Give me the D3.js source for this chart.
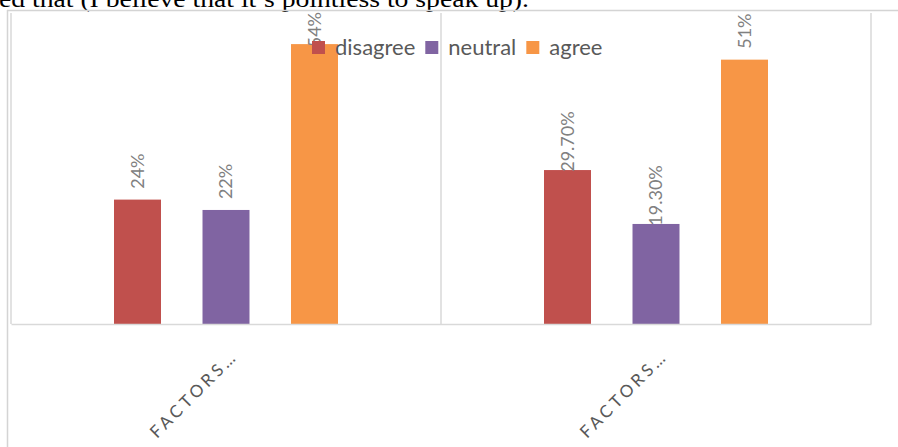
<!DOCTYPE html>
<html>
<head>
<meta charset="utf-8">
<script src="https://cdn.jsdelivr.net/npm/d3@7"></script>
<style>
  html, body { margin: 0; padding: 0; background: #ffffff; }
  svg { display: block; }
</style>
</head>
<body>
<svg id="chart" width="898" height="447"></svg>
<script>
// ---- data ----
const categories = ["FACTORS\u2026", "FACTORS\u2026"];
const series = ["disagree", "neutral", "agree"];
const disagreeValues = [24, 29.7];
const neutralValues = [22, 19.3];
const agreeValues = [54, 51];
const disagreeLabels = ["24%", "29.70%"];
const neutralLabels = ["22%", "19.30%"];
const agreeLabels = ["54%", "51%"];
const headerText = "ed that (I believe that it\u2019s pointless to speak up).";

const colors = { disagree: "#C0504D", neutral: "#8064A2", agree: "#F79646" };
const valuesBySeries = { disagree: disagreeValues, neutral: neutralValues, agree: agreeValues };
const labelsBySeries = { disagree: disagreeLabels, neutral: neutralLabels, agree: agreeLabels };

const svg = d3.select("#chart");
const FONT = "Lato, 'Open Sans', sans-serif";

// plot geometry
const plotLeft = 11, plotRight = 871, plotTop = 13, plotBottom = 324;

const x0 = d3.scaleBand().domain(d3.range(categories.length)).range([plotLeft, plotRight]).paddingInner(0).paddingOuter(0);
const x1 = d3.scaleBand().domain(series).range([0, x0.bandwidth()]).paddingInner(0.469).paddingOuter(1.164);
const y = d3.scaleLinear().domain([0, 60]).range([plotBottom, plotTop]);

// header document text (cut off at top, as in the source page)
svg.append("text")
  .attr("x", -1).attr("y", 6.5)
  .attr("font-family", "'Liberation Serif', 'Times New Roman', serif")
  .attr("font-size", 24)
  .attr("fill", "#000")
  .attr("textLength", 530)
  .attr("lengthAdjust", "spacingAndGlyphs")
  .text(headerText);

// outer frame
svg.append("line").attr("x1", 7).attr("x2", 898).attr("y1", 10.5).attr("y2", 10.5)
  .attr("stroke", "#d4d4d4").attr("stroke-width", 1.5);
svg.append("line").attr("x1", 7.5).attr("x2", 7.5).attr("y1", 10).attr("y2", 447)
  .attr("stroke", "#d4d4d4").attr("stroke-width", 1.5);

// vertical category gridlines
const bounds = categories.map((c, i) => x0(i)).concat([x0(categories.length - 1) + x0.bandwidth()]);
svg.append("g").selectAll("line").data(bounds).join("line")
  .attr("x1", d => d).attr("x2", d => d)
  .attr("y1", plotTop).attr("y2", plotBottom)
  .attr("stroke", "#d9d9d9").attr("stroke-width", 1.5);

// bars
const groups = svg.append("g").selectAll("g").data(categories).join("g")
  .attr("transform", (d, i) => `translate(${x0(i)},0)`);

groups.selectAll("rect").data((d, i) => series.map(s => ({ s, v: valuesBySeries[s][i], l: labelsBySeries[s][i] })))
  .join("rect")
  .attr("x", d => x1(d.s))
  .attr("width", x1.bandwidth())
  .attr("y", d => y(d.v))
  .attr("height", d => y(0) - y(d.v))
  .attr("fill", d => colors[d.s]);

// axis line
const xAxis = d3.axisBottom(x0).tickSize(0).tickFormat("");
const axisG = svg.append("g").attr("transform", `translate(0,${plotBottom})`).call(xAxis);
axisG.select(".domain").attr("stroke", "#d9d9d9").attr("stroke-width", 1.5);

// data labels (rotated)
groups.each(function(cat, i) {
  const g = d3.select(this);
  series.forEach(s => {
    const v = valuesBySeries[s][i];
    const cx = x1(s) + x1.bandwidth() / 2;
    const t = g.append("text")
      .attr("font-family", FONT)
      .attr("font-size", 18)
      .attr("fill", "#808080")
      .attr("text-anchor", "middle")
      .attr("dy", "0.35em")
      .text(labelsBySeries[s][i]);
    const len = t.node().getComputedTextLength();
    let cy = y(v) - 28.5;
    if (cy - len / 2 < 12) cy = 12 + len / 2;
    t.attr("transform", `translate(${cx},${cy}) rotate(-90)`);
  });
});

// x category labels
svg.append("g").selectAll("text").data(categories).join("text")
  .attr("transform", (d, i) => `translate(${x0(i) + x0.bandwidth() / 2 - 69},439) rotate(-45)`)
  .attr("font-family", FONT)
  .attr("font-size", 17)
  .attr("letter-spacing", 3.6)
  .attr("fill", "#595959")
  .attr("text-anchor", "start")
  .text(d => d);

// legend
const legend = svg.append("g");
let cursor = 312;
series.forEach(s => {
  legend.append("rect").attr("x", cursor).attr("y", 41).attr("width", 13).attr("height", 13).attr("fill", colors[s]);
  const t = legend.append("text").attr("x", cursor + 23).attr("y", 55)
    .attr("font-family", FONT).attr("font-size", 22).attr("fill", "#595959").text(s);
  cursor += 23 + t.node().getComputedTextLength() + 10;
});
</script>
</body>
</html>
